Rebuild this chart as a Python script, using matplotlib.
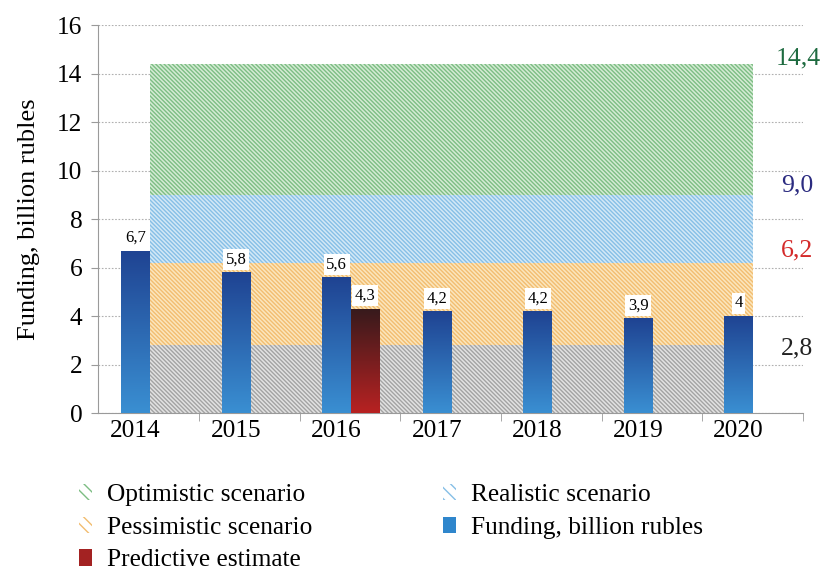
import numpy as np
import matplotlib.pyplot as plt
from matplotlib.patches import Patch
from matplotlib.colors import LinearSegmentedColormap

years = ['2014', '2015', '2016', '2017', '2018', '2019', '2020']
funding = [6.7, 5.8, 5.6, 4.2, 4.2, 3.9, 4.0]
funding_labels = ['6,7', '5,8', '5,6', '4,2', '4,2', '3,9', '4']
predictive_year = '2016'
predictive = 4.3
predictive_label = '4,3'

# scenario bands: lower, upper bound
scenario_names = ['Pessimistic scenario', 'Realistic scenario', 'Optimistic scenario']
band_bounds = [0.0, 2.8, 6.2, 9.0, 14.4]
bound_labels = ['2,8', '6,2', '9,0', '14,4']

plt.rcParams['font.family'] = ['Liberation Serif', 'DejaVu Serif']
plt.rcParams['hatch.linewidth'] = 1.0

fig = plt.figure(figsize=(8.22, 5.75), dpi=100)
ax = fig.add_axes([0.119, 0.2817, 0.858, 0.6748])

w = 0.285
x = np.arange(len(years))
x_band = [x[0] + w / 2, x[-1] + w / 2]

band_face = ['#e2e2e2', '#fbe6bd', '#d3e8f6', '#d4ebd4']
band_hatch = ['#a3a3a3', '#f2bd70', '#86bfe6', '#7cbd83']
for i in range(len(band_bounds) - 1):
    ax.fill_between(x_band, band_bounds[i], band_bounds[i + 1], facecolor=band_face[i],
                    edgecolor=band_hatch[i], hatch='\\' * 8, linewidth=0, zorder=1)

bars = ax.bar(x, funding, width=w, color='#2a62b0', zorder=3)
pi = years.index(predictive_year)
pbar = ax.bar([x[pi] + w], [predictive], width=w, color='#7a1e1e', zorder=3)

# vertical gradients inside bars
grad = np.linspace(0, 1, 256).reshape(-1, 1)
cm_blue = LinearSegmentedColormap.from_list('b', ['#3a8fd2', '#1f4392'])
cm_red = LinearSegmentedColormap.from_list('r', ['#b82222', '#361a1c'])
for patch, cmap in [(b, cm_blue) for b in bars] + [(pbar[0], cm_red)]:
    x0, y0 = patch.get_x(), patch.get_y()
    img = ax.imshow(grad, cmap=cmap, origin='lower', aspect='auto',
                    extent=[x0, x0 + patch.get_width(), y0, y0 + patch.get_height()],
                    zorder=3.5)
    img.set_clip_path(patch)

for xi, v, lab in zip(x, funding, funding_labels):
    ax.text(xi, v + 0.2, lab, ha='center', va='bottom', fontsize=12, zorder=5,
            bbox=dict(boxstyle='square,pad=0.15', fc='white', ec='none'))
ax.text(x[pi] + w, predictive + 0.2, predictive_label, ha='center', va='bottom', fontsize=12,
        zorder=5, bbox=dict(boxstyle='square,pad=0.15', fc='white', ec='none'))

label_colors = ['#222222', '#d42a2a', '#2b2b80', '#1e6b40']
label_dy = [-0.12, 0.52, 0.4, 0.24]
label_x = [6.42, 6.42, 6.42, 6.37]
for b, lab, c, dy, lx in zip(band_bounds[1:], bound_labels, label_colors, label_dy, label_x):
    ax.text(lx, b + dy, lab, ha='left', va='center', fontsize=18.5, color=c)

ax.set_xlim(-0.375, 6.64)
ax.set_ylim(0, 16)
ax.set_yticks(np.arange(0, 17, 2))
ax.set_xticks(x)
ax.set_xticklabels(years)
ax.set_xticks(np.arange(len(years)) + 0.635, minor=True)
ax.tick_params(axis='x', which='major', length=0, labelsize=18.3, pad=5)
ax.tick_params(axis='x', which='minor', length=6, color='#9a9a9a')
ax.tick_params(axis='y', length=5, color='#9a9a9a', labelsize=18.3, pad=6)
ax.yaxis.grid(True, linestyle=(0, (1.5, 1.5)), color='#b0b0b0', linewidth=0.8)
ax.set_axisbelow(True)
for s in ['top', 'right']:
    ax.spines[s].set_visible(False)
for s in ['left', 'bottom']:
    ax.spines[s].set_color('#9a9a9a')
ax.set_ylabel('Funding, billion rubles', fontsize=19, labelpad=12)

hatch_h = '\\' * 3
handles = [
    Patch(facecolor='white', edgecolor=band_hatch[3], hatch=hatch_h, linewidth=0, label=scenario_names[2]),
    Patch(facecolor='white', edgecolor=band_hatch[1], hatch=hatch_h, linewidth=0, label=scenario_names[0]),
    Patch(facecolor='#a32222', label='Predictive estimate'),
    Patch(facecolor='white', edgecolor=band_hatch[2], hatch=hatch_h, linewidth=0, label=scenario_names[1]),
    Patch(facecolor='#2f86cc', label='Funding, billion rubles'),
]
fig.legend(handles=handles, loc='upper left', bbox_to_anchor=(0.0835, 0.176),
           ncol=2, frameon=False, fontsize=18.3, handlelength=0.5, handleheight=0.6,
           handletextpad=0.6, columnspacing=5.15, labelspacing=0.42, borderaxespad=0)

fig.savefig('out.png', dpi=100)
